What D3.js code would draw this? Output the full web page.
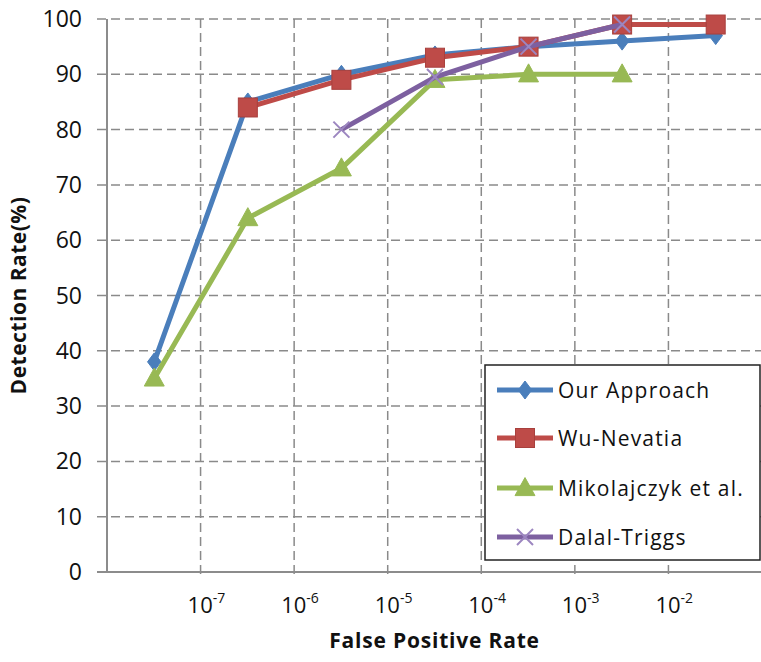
<!DOCTYPE html>
<html>
<head>
<meta charset="utf-8">
<script src="https://cdn.jsdelivr.net/npm/d3@7"></script>
<style>
  body { margin: 0; background: #fff; }
  text { font-family: "Open Sans", "Noto Sans", sans-serif; fill: #111; }
</style>
</head>
<body>
<svg id="chart" width="761" height="662"></svg>
<script>
// false positive rate of each operating point (one per decade)
var fpr = [3.2e-8, 3.2e-7, 3.2e-6, 3.2e-5, 3.2e-4, 3.2e-3, 3.2e-2];
var ourApproach   = [38, 85, 90, 93.5, 95, 96, 97];
var wuNevatia     = [null, 84, 89, 93, 95, 99, 99];
var mikolajczyk   = [35, 64, 73, 89, 90, 90, null];
var dalalTriggs   = [null, null, 80, 89.5, 95, 99, null];
var xTickExps = [-7, -6, -5, -4, -3, -2];
var yTicks = [0, 10, 20, 30, 40, 50, 60, 70, 80, 90, 100];

var series = [
  {name: 'Our Approach', values: ourApproach, color: '#4A7EBB', marker: 'diamond'},
  {name: 'Wu-Nevatia', values: wuNevatia, color: '#BE4B48', marker: 'square'},
  {name: 'Mikolajczyk et al.', values: mikolajczyk, color: '#98B954', marker: 'triangle'},
  {name: 'Dalal-Triggs', values: dalalTriggs, color: '#7D60A0', marker: 'cross'}
];

var draw_chart = function() {
  var svg = d3.select('#chart');
  var left = 107, right = 762, plotTop = 19, bottom = 572;

  var x = d3.scaleLog().domain([1e-8, 1e-1]).range([left, right]);
  var y = d3.scaleLinear().domain([0, 100]).range([bottom, plotTop]);

  // gridlines
  svg.append('g').selectAll('line')
    .data(yTicks.slice(1))
    .enter().append('line')
      .attr('x1', left - 10).attr('x2', right)
      .attr('y1', function(d) { return y(d); }).attr('y2', function(d) { return y(d); })
      .attr('stroke', '#8a8a8a').attr('stroke-width', 1.5)
      .attr('stroke-dasharray', '9,5');

  svg.append('g').selectAll('line')
    .data(xTickExps)
    .enter().append('line')
      .attr('x1', function(d) { return x(Math.pow(10, d)); })
      .attr('x2', function(d) { return x(Math.pow(10, d)); })
      .attr('y1', plotTop).attr('y2', bottom + 6)
      .attr('stroke', '#8a8a8a').attr('stroke-width', 1.5)
      .attr('stroke-dasharray', '9,5');

  // axis lines
  svg.append('line')
    .attr('x1', left).attr('x2', left).attr('y1', plotTop).attr('y2', bottom)
    .attr('stroke', '#8c8c8c').attr('stroke-width', 2);
  svg.append('line')
    .attr('x1', left - 10).attr('x2', right).attr('y1', bottom).attr('y2', bottom)
    .attr('stroke', '#8c8c8c').attr('stroke-width', 2);

  // y tick labels
  svg.append('g').selectAll('text')
    .data(yTicks)
    .enter().append('text')
      .attr('x', 82)
      .attr('y', function(d) { return y(d) + 8; })
      .attr('text-anchor', 'end')
      .style('font-size', '23px')
      .text(function(d) { return d; });

  // x tick labels as 10^n
  var xl = svg.append('g').selectAll('text')
    .data(xTickExps)
    .enter().append('text')
      .attr('x', function(d) { return x(Math.pow(10, d)) - 13; })
      .attr('y', 613)
      .style('font-size', '22px');
  xl.append('tspan').text('10');
  xl.append('tspan')
    .attr('dy', -10)
    .style('font-size', '14px')
    .text(function(d) { return String(d); });

  // axis titles
  svg.append('text')
    .attr('x', (left + right) / 2)
    .attr('y', 648)
    .attr('text-anchor', 'middle')
    .style('font-size', '21px').style('font-weight', 'bold')
    .style('letter-spacing', '0.8px')
    .text('False Positive Rate');

  svg.append('text')
    .attr('transform', 'translate(26,' + ((plotTop + bottom) / 2) + ') rotate(-90)')
    .attr('text-anchor', 'middle')
    .style('font-size', '21px').style('font-weight', 'bold')
    .style('letter-spacing', '0.5px')
    .text('Detection Rate(%)');

  var drawMarker = function(g, type, color, size) {
    if (type === 'diamond') {
      g.append('path').attr('d', 'M0,' + (-size) + 'L' + size * 0.75 + ',0L0,' + size + 'L' + (-size * 0.75) + ',0Z')
        .attr('fill', color).attr('stroke', color);
    } else if (type === 'square') {
      g.append('rect').attr('x', -size).attr('y', -size).attr('width', size * 2).attr('height', size * 2)
        .attr('fill', color).attr('stroke', '#a8403d').attr('stroke-width', 1);
    } else if (type === 'triangle') {
      g.append('path').attr('d', 'M0,' + (-size * 1.1) + 'L' + size * 1.05 + ',' + size * 0.8 + 'L' + (-size * 1.05) + ',' + size * 0.8 + 'Z')
        .attr('fill', color).attr('stroke', color);
    } else {
      g.append('path').attr('d', 'M' + (-size) + ',' + (-size) + 'L' + size + ',' + size + 'M' + size + ',' + (-size) + 'L' + (-size) + ',' + size)
        .attr('stroke', '#9c86c0').attr('stroke-width', 2);
    }
  };

  var markerSize = {diamond: 9, square: 9.5, triangle: 9.5, cross: 8};

  var line = d3.line()
    .defined(function(d) { return d.v !== null; })
    .x(function(d) { return x(d.f); })
    .y(function(d) { return y(d.v); });

  series.forEach(function(s) {
    var pts = s.values.map(function(v, i) { return {f: fpr[i], v: v}; });
    var g = svg.append('g');
    g.append('path')
      .datum(pts)
      .attr('d', line)
      .attr('fill', 'none')
      .attr('stroke', s.color)
      .attr('stroke-width', 5)
      .attr('stroke-linejoin', 'round');
    pts.filter(function(d) { return d.v !== null; }).forEach(function(d) {
      var m = g.append('g').attr('transform', 'translate(' + x(d.f) + ',' + y(d.v) + ')');
      drawMarker(m, s.marker, s.color, markerSize[s.marker]);
    });
  });

  // legend
  var lg = svg.append('g');
  lg.append('rect')
    .attr('x', 485).attr('y', 365).attr('width', 275).attr('height', 195)
    .attr('fill', '#fff').attr('stroke', '#222').attr('stroke-width', 1.5);
  var rowY = [390, 438, 488, 537];
  series.forEach(function(s, i) {
    lg.append('line')
      .attr('x1', 497).attr('x2', 553).attr('y1', rowY[i]).attr('y2', rowY[i])
      .attr('stroke', s.color).attr('stroke-width', 5);
    var m = lg.append('g').attr('transform', 'translate(525,' + rowY[i] + ')');
    drawMarker(m, s.marker, s.color, markerSize[s.marker]);
    lg.append('text')
      .attr('x', 558).attr('y', rowY[i] + 8)
      .style('font-size', '21px')
      .style('letter-spacing', '1.2px')
      .text(s.name);
  });
};

draw_chart();
</script>
</body>
</html>
